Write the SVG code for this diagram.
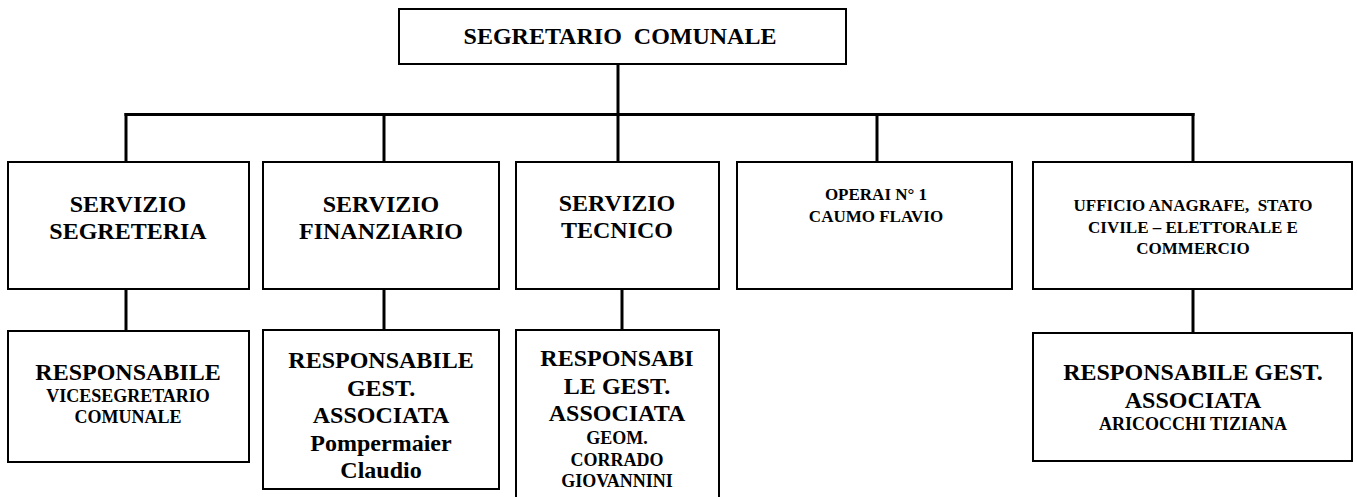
<svg xmlns="http://www.w3.org/2000/svg" width="1357" height="497" viewBox="0 0 1357 497">
<style>
.box{fill:#fff;stroke:#000;stroke-width:2}
.conn line{stroke:#000;stroke-width:3}
text{font-family:"Liberation Serif","Times New Roman",serif;font-weight:bold;fill:#000;text-anchor:middle}
.b{font-size:24px}
.s{font-size:18px}
.t{font-size:17px}
</style>
<rect width="1357" height="497" fill="#fff"/>
<g id="connectors" class="conn">
<line x1="618" y1="64" x2="618" y2="162"/>
<line x1="124.5" y1="114.5" x2="1194.5" y2="114.5"/>
<line x1="126" y1="113" x2="126" y2="162"/>
<line x1="384" y1="113" x2="384" y2="162"/>
<line x1="877" y1="113" x2="877" y2="162"/>
<line x1="1193" y1="113" x2="1193" y2="162"/>
<line x1="126" y1="289" x2="126" y2="331"/>
<line x1="384" y1="289" x2="384" y2="335"/>
<line x1="622" y1="282" x2="622" y2="330"/>
<line x1="1193" y1="282" x2="1193" y2="333"/>
</g>
<g id="segretario">
<rect class="box" x="399" y="9" width="447" height="55"/>
<text class="b" x="620" y="44" xml:space="preserve">SEGRETARIO  COMUNALE</text>
</g>
<g id="servizio-segreteria">
<rect class="box" x="8" y="162" width="241" height="127"/>
<text class="b" x="128" y="211.5">SERVIZIO</text>
<text class="b" x="128" y="239">SEGRETERIA</text>
</g>
<g id="servizio-finanziario">
<rect class="box" x="263" y="162" width="236" height="127"/>
<text class="b" x="381" y="211.5">SERVIZIO</text>
<text class="b" x="381" y="239">FINANZIARIO</text>
</g>
<g id="servizio-tecnico">
<rect class="box" x="516" y="162" width="203" height="127"/>
<text class="b" x="617" y="211">SERVIZIO</text>
<text class="b" x="617" y="238">TECNICO</text>
</g>
<g id="operai">
<rect class="box" x="737" y="162" width="275" height="127"/>
<text class="t" x="876" y="200">OPERAI N° 1</text>
<text class="t" x="876" y="221.5">CAUMO FLAVIO</text>
</g>
<g id="ufficio-anagrafe">
<rect class="box" x="1033" y="162" width="319" height="127"/>
<text class="t" x="1193" y="211" xml:space="preserve">UFFICIO ANAGRAFE,  STATO</text>
<text class="t" x="1193" y="232.5">CIVILE – ELETTORALE E</text>
<text class="t" x="1193" y="254">COMMERCIO</text>
</g>
<g id="resp-segreteria">
<rect class="box" x="8" y="331" width="241" height="131"/>
<text class="b" x="128" y="380">RESPONSABILE</text>
<text class="s" x="128" y="402">VICESEGRETARIO</text>
<text class="s" x="128" y="422.5">COMUNALE</text>
</g>
<g id="resp-finanziario">
<rect class="box" x="263" y="330" width="236" height="159"/>
<text class="b" x="381" y="368">RESPONSABILE</text>
<text class="b" x="381" y="395.5">GEST.</text>
<text class="b" x="381" y="423">ASSOCIATA</text>
<text class="b" x="381" y="450.5">Pompermaier</text>
<text class="b" x="381" y="478">Claudio</text>
</g>
<g id="resp-tecnico">
<rect class="box" x="516" y="330" width="203" height="175"/>
<text class="b" x="617" y="366">RESPONSABI</text>
<text class="b" x="617" y="393.5">LE GEST.</text>
<text class="b" x="617" y="421">ASSOCIATA</text>
<text class="s" x="617" y="444">GEOM.</text>
<text class="s" x="617" y="465.5">CORRADO</text>
<text class="s" x="617" y="487">GIOVANNINI</text>
</g>
<g id="resp-anagrafe">
<rect class="box" x="1033" y="333" width="319" height="128"/>
<text class="b" x="1193" y="379.5">RESPONSABILE GEST.</text>
<text class="b" x="1193" y="407.5">ASSOCIATA</text>
<text class="s" x="1193" y="430">ARICOCCHI TIZIANA</text>
</g>
</svg>
